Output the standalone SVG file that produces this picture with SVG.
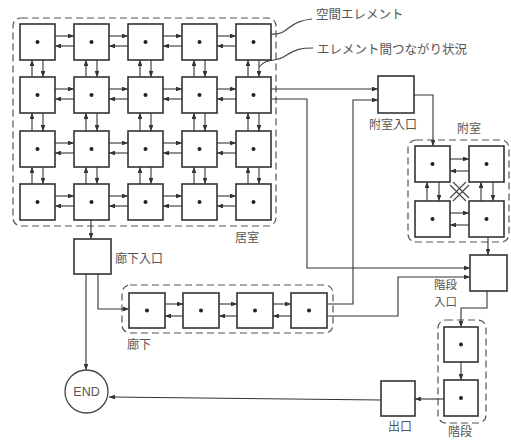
<svg xmlns="http://www.w3.org/2000/svg" width="511" height="441" viewBox="0 0 511 441">
<defs>
<marker id="a" viewBox="0 0 10 8" refX="10" refY="4" markerWidth="6" markerHeight="4.8" markerUnits="userSpaceOnUse" orient="auto"><path d="M0,0 L10,4 L0,8 z" fill="#333"/></marker>
<style>
.b{fill:#fff;stroke:#333;stroke-width:1.6}
.d{fill:#222}
.g{fill:none;stroke:#555;stroke-width:1.2;stroke-dasharray:7 4}
.c{fill:none;stroke:#333;stroke-width:1.1;marker-end:url(#a)}
.n{fill:none;stroke:#444;stroke-width:1.1}
.t{font-family:"Noto Sans CJK JP","Noto Sans CJK SC",sans-serif;font-size:12px;fill:#555}
.e{font-family:"Liberation Sans",Arial,sans-serif;font-size:12.5px;fill:#555}
</style>
</defs>
<rect width="511" height="441" fill="#fff"/>

<!-- groups (dashed) -->
<g id="kyoshitsu">
<rect class="g" x="13" y="18" width="263" height="208" rx="8"/>
<text class="t" x="235" y="242">居室</text>
</g>
<g id="fushitsu">
<rect class="g" x="408" y="140" width="101" height="102" rx="8"/>
<text class="t" x="457" y="133">附室</text>
</g>
<g id="roka">
<rect class="g" x="122" y="285" width="211" height="48" rx="8"/>
<text class="t" x="127" y="349">廊下</text>
</g>
<g id="kaidan">
<rect class="g" x="438" y="320" width="48" height="103" rx="8"/>
<text class="t" x="448" y="436">階段</text>
</g>

<!-- connectors -->
<g id="connectors">
<!-- grid horizontal -->
<path class="c" d="M55 36H74"/><path class="c" d="M74 46H55"/>
<path class="c" d="M109 36H128"/><path class="c" d="M128 46H109"/>
<path class="c" d="M163 36H182"/><path class="c" d="M182 46H163"/>
<path class="c" d="M217 36H236"/><path class="c" d="M236 46H217"/>
<path class="c" d="M55 89H74"/><path class="c" d="M74 99H55"/>
<path class="c" d="M109 89H128"/><path class="c" d="M128 99H109"/>
<path class="c" d="M163 89H182"/><path class="c" d="M182 99H163"/>
<path class="c" d="M217 89H236"/><path class="c" d="M236 99H217"/>
<path class="c" d="M55 143H74"/><path class="c" d="M74 153H55"/>
<path class="c" d="M109 143H128"/><path class="c" d="M128 153H109"/>
<path class="c" d="M163 143H182"/><path class="c" d="M182 153H163"/>
<path class="c" d="M217 143H236"/><path class="c" d="M236 153H217"/>
<path class="c" d="M55 196H74"/><path class="c" d="M74 206H55"/>
<path class="c" d="M109 196H128"/><path class="c" d="M128 206H109"/>
<path class="c" d="M163 196H182"/><path class="c" d="M182 206H163"/>
<path class="c" d="M217 196H236"/><path class="c" d="M236 206H217"/>
<!-- grid vertical -->
<path class="c" d="M32 77V60"/><path class="c" d="M43 60V77"/>
<path class="c" d="M86 77V60"/><path class="c" d="M97 60V77"/>
<path class="c" d="M140 77V60"/><path class="c" d="M151 60V77"/>
<path class="c" d="M194 77V60"/><path class="c" d="M205 60V77"/>
<path class="c" d="M248 77V60"/><path class="c" d="M259 60V77"/>
<path class="c" d="M32 131V113"/><path class="c" d="M43 113V131"/>
<path class="c" d="M86 131V113"/><path class="c" d="M97 113V131"/>
<path class="c" d="M140 131V113"/><path class="c" d="M151 113V131"/>
<path class="c" d="M194 131V113"/><path class="c" d="M205 113V131"/>
<path class="c" d="M248 131V113"/><path class="c" d="M259 113V131"/>
<path class="c" d="M32 184V167"/><path class="c" d="M43 167V184"/>
<path class="c" d="M86 184V167"/><path class="c" d="M97 167V184"/>
<path class="c" d="M140 184V167"/><path class="c" d="M151 167V184"/>
<path class="c" d="M194 184V167"/><path class="c" d="M205 167V184"/>
<path class="c" d="M248 184V167"/><path class="c" d="M259 167V184"/>
<!-- grid exits -->
<path class="c" d="M271 89H378"/>
<path class="c" d="M271 99H307V268H470"/>
<path class="c" d="M91 220V239"/>
<!-- fushitsu entrance -->
<path class="c" d="M414 95H433V146"/>
<!-- fushitsu internal -->
<path class="c" d="M450 159H469"/><path class="c" d="M469 171H450"/>
<path class="c" d="M450 213H469"/><path class="c" d="M469 225H450"/>
<path class="c" d="M427 201V182"/><path class="c" d="M439 182V201"/>
<path class="c" d="M481 201V182"/><path class="c" d="M493 182V201"/>
<path class="n" d="M453 182L469 198M450 185L466 201M466 182L450 198M469 185L453 201"/>
<path class="c" d="M488 237V255"/>
<!-- roka -->
<path class="c" d="M86 274V370"/>
<path class="c" d="M98 274V309H129"/>
<path class="c" d="M165 304H183"/><path class="c" d="M183 316H165"/>
<path class="c" d="M219 304H237"/><path class="c" d="M237 316H219"/>
<path class="c" d="M273 304H291"/><path class="c" d="M291 316H273"/>
<path class="c" d="M327 304H353V100H378"/>
<path class="c" d="M327 316H398V277H470"/>
<!-- stairs -->
<path class="c" d="M487 291V308H461V327"/>
<path class="c" d="M461 362V380"/>
<path class="c" d="M444 399H415"/>
<path class="c" d="M381 400L109 397"/>
<!-- leaders -->
<path class="n" d="M262 39C270 30 276 38 286 30S302 20 312 19"/>
<path class="n" d="M259 67C267 57 275 63 285 56S302 48 313 48"/>
</g>

<!-- grid nodes -->
<g id="r1c1"><rect class="b" x="20" y="24" width="35" height="36"/><circle class="d" cx="37.5" cy="42" r="2"/></g>
<g id="r1c2"><rect class="b" x="74" y="24" width="35" height="36"/><circle class="d" cx="91.5" cy="42" r="2"/></g>
<g id="r1c3"><rect class="b" x="128" y="24" width="35" height="36"/><circle class="d" cx="145.5" cy="42" r="2"/></g>
<g id="r1c4"><rect class="b" x="182" y="24" width="35" height="36"/><circle class="d" cx="199.5" cy="42" r="2"/></g>
<g id="r1c5"><rect class="b" x="236" y="24" width="35" height="36"/><circle class="d" cx="253.5" cy="42" r="2"/></g>
<g id="r2c1"><rect class="b" x="20" y="77" width="35" height="36"/><circle class="d" cx="37.5" cy="95" r="2"/></g>
<g id="r2c2"><rect class="b" x="74" y="77" width="35" height="36"/><circle class="d" cx="91.5" cy="95" r="2"/></g>
<g id="r2c3"><rect class="b" x="128" y="77" width="35" height="36"/><circle class="d" cx="145.5" cy="95" r="2"/></g>
<g id="r2c4"><rect class="b" x="182" y="77" width="35" height="36"/><circle class="d" cx="199.5" cy="95" r="2"/></g>
<g id="r2c5"><rect class="b" x="236" y="77" width="35" height="36"/><circle class="d" cx="253.5" cy="95" r="2"/></g>
<g id="r3c1"><rect class="b" x="20" y="131" width="35" height="36"/><circle class="d" cx="37.5" cy="149" r="2"/></g>
<g id="r3c2"><rect class="b" x="74" y="131" width="35" height="36"/><circle class="d" cx="91.5" cy="149" r="2"/></g>
<g id="r3c3"><rect class="b" x="128" y="131" width="35" height="36"/><circle class="d" cx="145.5" cy="149" r="2"/></g>
<g id="r3c4"><rect class="b" x="182" y="131" width="35" height="36"/><circle class="d" cx="199.5" cy="149" r="2"/></g>
<g id="r3c5"><rect class="b" x="236" y="131" width="35" height="36"/><circle class="d" cx="253.5" cy="149" r="2"/></g>
<g id="r4c1"><rect class="b" x="20" y="184" width="35" height="36"/><circle class="d" cx="37.5" cy="202" r="2"/></g>
<g id="r4c2"><rect class="b" x="74" y="184" width="35" height="36"/><circle class="d" cx="91.5" cy="202" r="2"/></g>
<g id="r4c3"><rect class="b" x="128" y="184" width="35" height="36"/><circle class="d" cx="145.5" cy="202" r="2"/></g>
<g id="r4c4"><rect class="b" x="182" y="184" width="35" height="36"/><circle class="d" cx="199.5" cy="202" r="2"/></g>
<g id="r4c5"><rect class="b" x="236" y="184" width="35" height="36"/><circle class="d" cx="253.5" cy="202" r="2"/></g>

<!-- fushitsu entrance -->
<g id="fushitsu-iriguchi"><rect class="b" x="378" y="76" width="36" height="37"/><text class="t" x="369" y="129">附室入口</text></g>
<!-- fushitsu rooms -->
<g id="f1"><rect class="b" x="415" y="146" width="35" height="36"/><circle class="d" cx="432.5" cy="164" r="2"/></g>
<g id="f2"><rect class="b" x="469" y="146" width="35" height="36"/><circle class="d" cx="486.5" cy="164" r="2"/></g>
<g id="f3"><rect class="b" x="415" y="201" width="35" height="36"/><circle class="d" cx="432.5" cy="219" r="2"/></g>
<g id="f4"><rect class="b" x="469" y="201" width="35" height="36"/><circle class="d" cx="486.5" cy="219" r="2"/></g>

<!-- roka entrance -->
<g id="roka-iriguchi"><rect class="b" x="74" y="239" width="37" height="35"/><text class="t" x="115" y="263">廊下入口</text></g>
<!-- roka rooms -->
<g id="k1"><rect class="b" x="129" y="293" width="36" height="35"/><circle class="d" cx="147" cy="310.5" r="2"/></g>
<g id="k2"><rect class="b" x="183" y="293" width="36" height="35"/><circle class="d" cx="201" cy="310.5" r="2"/></g>
<g id="k3"><rect class="b" x="237" y="293" width="36" height="35"/><circle class="d" cx="255" cy="310.5" r="2"/></g>
<g id="k4"><rect class="b" x="291" y="293" width="36" height="35"/><circle class="d" cx="309" cy="310.5" r="2"/></g>

<!-- stair entrance -->
<g id="kaidan-iriguchi"><rect class="b" x="470" y="255" width="37" height="36"/><text class="t" x="434" y="289" style="font-size:11.5px">階段</text><text class="t" x="434" y="306" style="font-size:11.5px">入口</text></g>
<!-- stairs -->
<g id="s1"><rect class="b" x="444" y="327" width="34" height="35"/><circle class="d" cx="461" cy="344.5" r="2"/></g>
<g id="s2"><rect class="b" x="444" y="380" width="34" height="36"/><circle class="d" cx="461" cy="398" r="2"/></g>
<!-- exit -->
<g id="deguchi"><rect class="b" x="381" y="381" width="34" height="35"/><text class="t" x="388" y="431">出口</text></g>
<!-- END -->
<g id="end"><circle cx="86.5" cy="391.5" r="21.5" fill="#fff" stroke="#444" stroke-width="1.3"/><text class="e" x="86.5" y="396" text-anchor="middle">END</text></g>

<!-- annotations -->
<g id="notes">
<text class="t" x="316" y="19" style="font-size:12.5px">空間エレメント</text>
<text class="t" x="317" y="54" style="font-size:12.5px">エレメント間つながり状況</text>
</g>
</svg>
